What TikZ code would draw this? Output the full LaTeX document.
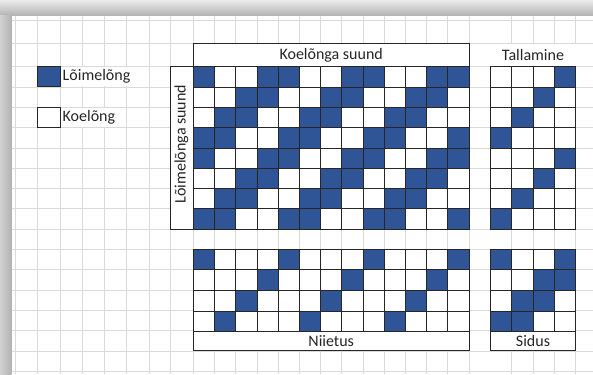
\documentclass[tikz,border=0pt]{standalone}
\usepackage{fontspec}
\setmainfont{Carlito}
\definecolor{warp}{HTML}{2F5597}
\definecolor{cellline}{HTML}{262626}
\definecolor{bgline}{HTML}{DADADA}
\definecolor{txt}{HTML}{262626}
\begin{document}
\begin{tikzpicture}[x=1pt,y=-1pt,
  bg/.style={draw=bgline,line width=0.7pt},
  cell/.style={draw=cellline,line width=0.8pt},
  lbl/.style={font=\fontsize{16}{18}\selectfont,text=txt,inner sep=0pt},
  box/.style={draw=cellline,line width=0.8pt,fill=white}]
\useasboundingbox (0,0) rectangle (593,374);
% frame shadow
\fill[top color=black!8,bottom color=black!30] (0,0) rectangle (593,15.7);
\fill[left color=black!18,right color=black!30] (0,15.7) rectangle (11.5,374);
\fill[white] (11.5,15.7) rectangle (593,374);
% background grid
\foreach \x in {15,37.3,60,82.3,104.3,126.7,149,170.7}
  \draw[bg] (\x,15.7) -- (\x,374);
\foreach \k in {0,...,13}
  \draw[bg] ({193.3+21.2*\k},15.7) -- ({193.3+21.2*\k},374);
\foreach \k in {1,...,4}
  \draw[bg] ({490.7+21.1*\k},15.7) -- ({490.7+21.1*\k},374);
\foreach \y in {20,43.3}
  \draw[bg] (11.5,\y) -- (593,\y);
\foreach \k in {0,...,15}
  \draw[bg] (11.5,{66.7+20.3*\k}) -- (593,{66.7+20.3*\k});
% white cells behind overflowing texts
\fill[white] (61,67.2) rectangle (148.5,86.5);
\fill[white] (61,107.8) rectangle (126.2,127.1);
\fill[white] (490.7,43.8) rectangle (575.6,66.2);
% main grid (Koelõng / Lõimelõng pattern)
\foreach \r in {0,...,7}
  \foreach \c in {0,...,12}{
    \pgfmathtruncatemacro\m{mod(\c+\r,4)}
    \ifnum\m=0 \def\col{warp}\else\ifnum\m=3 \def\col{warp}\else\def\col{white}\fi\fi
    \filldraw[cell,fill=\col] ({193.3+21.2*\c},{66.7+20.3*\r}) rectangle ++(21.2,20.3);
  }
% Tallamine
\foreach \r in {0,...,7}
  \foreach \c in {0,...,3}{
    \pgfmathtruncatemacro\m{mod(\c+\r,4)}
    \ifnum\m=3 \def\col{warp}\else\def\col{white}\fi
    \filldraw[cell,fill=\col] ({490.7+21.1*\c},{66.7+20.3*\r}) rectangle ++(21.1,20.3);
  }
% Niietus
\foreach \r in {0,...,3}
  \foreach \c in {0,...,12}{
    \pgfmathtruncatemacro\m{mod(\c+\r,4)}
    \ifnum\m=0 \def\col{warp}\else\def\col{white}\fi
    \filldraw[cell,fill=\col] ({193.3+21.2*\c},{249+20.67*\r}) rectangle ++(21.2,20.67);
  }
% Sidus
\foreach \r in {0,...,3}
  \foreach \c in {0,...,3}{
    \pgfmathtruncatemacro\m{mod(\c+\r,4)}
    \ifnum\m=0 \def\col{warp}\else\ifnum\m=3 \def\col{warp}\else\def\col{white}\fi\fi
    \filldraw[cell,fill=\col] ({490.7+21.1*\c},{249+20.67*\r}) rectangle ++(21.1,20.67);
  }
% label boxes
\draw[box] (193.3,43.3) rectangle (469,66.7);
\node[lbl] (koe) at (331.2,55.5) {Koelõnga suund};
\draw[box] (170.7,66.7) rectangle (193.3,229);
\node[lbl,rotate=90] (loime) at (181.5,144) {Lõimelõnga suund};
\node[lbl] (tall) at (533,55.5) {Tallamine};
\draw[box] (193.3,331.7) rectangle (469,350.7);
\node[lbl] (nii) at (331.2,341.2) {Niietus};
\draw[box] (490.7,331.7) rectangle (575.1,350.7);
\node[lbl] (sid) at (533,341.2) {Sidus};
% legend
\filldraw[cell,fill=warp] (37.3,66.5) rectangle (60,86.9);
\node[lbl,anchor=west] (lw) at (62.5,76.7) {Lõimelõng};
\filldraw[cell,fill=white] (37.3,107.2) rectangle (60,127.4);
\node[lbl,anchor=west] (lk) at (62.5,117.3) {Koelõng};
\end{tikzpicture}
\end{document}
